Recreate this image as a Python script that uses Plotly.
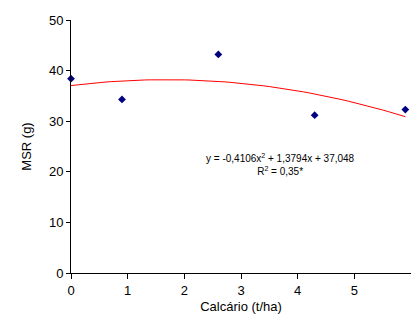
import numpy as np
import plotly.graph_objects as go

calcario = [0.0, 0.9, 2.6, 4.3, 5.9]
msr = [38.4, 34.3, 43.2, 31.2, 32.3]
coef = [-0.4106, 1.3794, 37.048]  # quadratic trendline shown on chart
x_ticks = [0, 1, 2, 3, 4, 5, 6]
y_ticks = [0, 10, 20, 30, 40, 50]

xf = np.linspace(0, 5.9, 60)
yf = np.polyval(coef, xf)

fig = go.Figure()
fig.add_trace(go.Scatter(x=xf, y=yf, mode="lines",
                         line=dict(color="#ff0000", width=1), showlegend=False, hoverinfo="skip"))
fig.add_trace(go.Scatter(x=calcario, y=msr, mode="markers", cliponaxis=False,
                         marker=dict(symbol="diamond", size=6, color="#000080"), showlegend=False))

fig.add_annotation(x=3.7, y=21.5, xref="x", yref="y", showarrow=False,
                   text="y = -0,4106x<sup>2</sup> + 1,3794x + 37,048<br>R<sup>2</sup> = 0,35*",
                   font=dict(size=10, color="#000000", family="Liberation Sans, Arial"),
                   align="center")

fig.update_layout(
    width=403, height=306,
    margin=dict(l=63, r=0, t=12, b=41),
    paper_bgcolor="white", plot_bgcolor="white",
    font=dict(family="Liberation Sans, Arial", color="#000000", size=13),
)
fig.update_xaxes(range=[0, 6], tickvals=x_ticks, showgrid=False, zeroline=False,
                 showline=True, linecolor="#000000", linewidth=1,
                 ticks="outside", ticklen=5, tickcolor="#000000",
                 title=dict(text="Calcário (t/ha)", font=dict(size=13), standoff=6))
fig.update_yaxes(range=[0, 50], tickvals=y_ticks, showgrid=False, zeroline=False,
                 showline=True, linecolor="#000000", linewidth=1,
                 ticks="outside", ticklen=4, tickcolor="#000000",
                 title=dict(text="MSR (g)", font=dict(size=13), standoff=14))

fig.write_html("out.html")
